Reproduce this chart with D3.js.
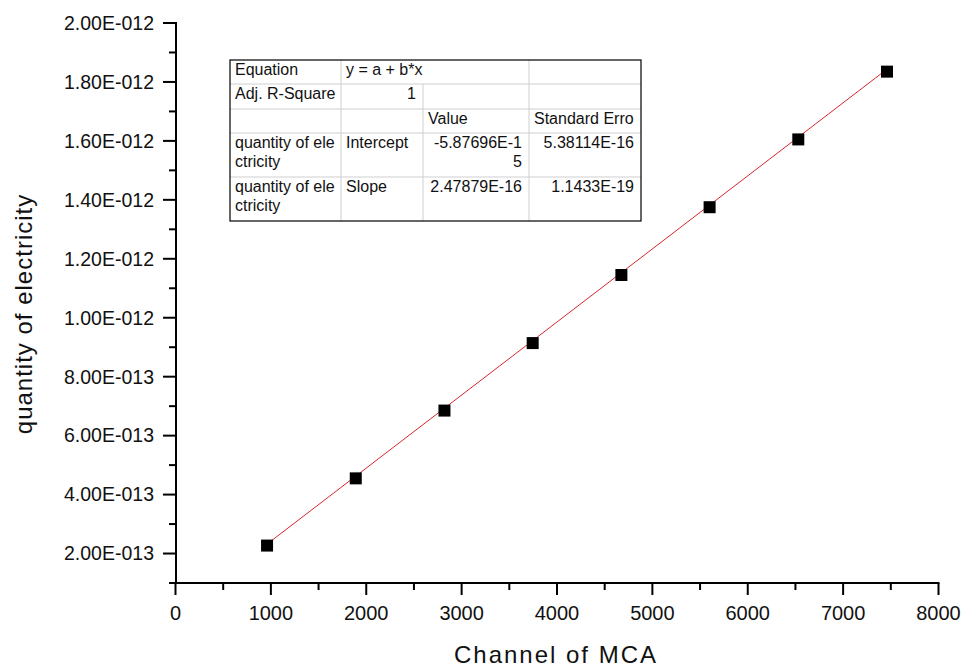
<!DOCTYPE html>
<html>
<head>
<meta charset="utf-8">
<script src="https://cdn.jsdelivr.net/npm/d3@7"></script>
<style>
  body { margin: 0; background: #fff; }
  text { font-family: Arial, "Liberation Sans", sans-serif; fill: #111; }
</style>
</head>
<body>
<svg id="chart" width="964" height="669"></svg>
<script>
// data
var channel = [960, 1890, 2820, 3745, 4675, 5600, 6530, 7460];
var charge = [2.27e-13, 4.55e-13, 6.85e-13, 9.14e-13, 1.145e-12, 1.375e-12, 1.605e-12, 1.835e-12];
var fitA = -5.87696e-15, fitB = 2.47879e-16;
var xTicks = [0, 1000, 2000, 3000, 4000, 5000, 6000, 7000, 8000];
var yTicks = [2e-13, 4e-13, 6e-13, 8e-13, 1e-12, 1.2e-12, 1.4e-12, 1.6e-12, 1.8e-12, 2e-12];
var yTickLabels = ["2.00E-013","4.00E-013","6.00E-013","8.00E-013","1.00E-012","1.20E-012","1.40E-012","1.60E-012","1.80E-012","2.00E-012"];
var tableRows = [
  ["Equation", "y = a + b*x", "", ""],
  ["Adj. R-Square", "1", "", ""],
  ["", "", "Value", "Standard Erro"],
  ["quantity of ele|ctricity", "Intercept", "-5.87696E-1|5", "5.38114E-16"],
  ["quantity of ele|ctricity", "Slope", "2.47879E-16", "1.1433E-19"]
];

var svg = d3.select("#chart");
var x = d3.scaleLinear().domain([0, 8000]).range([175.5, 938.5]);
var y = d3.scaleLinear().domain([1e-13, 2e-12]).range([583, 23]);

// axes
var xAxis = svg.append("g").attr("transform", "translate(0,583)");
xAxis.append("line").attr("x1", 174.5).attr("x2", 939.5).attr("stroke", "#000").attr("stroke-width", 2);
xAxis.selectAll("line.minor").data(d3.range(500, 8000, 1000)).enter().append("line")
  .attr("x1", d => x(d)).attr("x2", d => x(d)).attr("y1", 0).attr("y2", 7)
  .attr("stroke", "#000").attr("stroke-width", 2);
var xt = xAxis.selectAll("g.tick").data(xTicks).enter().append("g")
  .attr("transform", d => "translate(" + x(d) + ",0)");
xt.append("line").attr("y1", 0).attr("y2", 12).attr("stroke", "#000").attr("stroke-width", 2);
xt.append("text").attr("y", 37).attr("text-anchor", "middle").attr("font-size", 20)
  .text(d => d);

var yAxis = svg.append("g").attr("transform", "translate(176,0)");
yAxis.append("line").attr("y1", 22).attr("y2", 584).attr("stroke", "#000").attr("stroke-width", 2);
yAxis.selectAll("line.minor").data(d3.range(1e-13, 2e-12, 2e-13)).enter().append("line")
  .attr("y1", d => y(d)).attr("y2", d => y(d)).attr("x1", 0).attr("x2", -7)
  .attr("stroke", "#000").attr("stroke-width", 2);
var yt = yAxis.selectAll("g.tick").data(yTicks).enter().append("g")
  .attr("transform", d => "translate(0," + y(d) + ")");
yt.append("line").attr("x1", 0).attr("x2", -13).attr("stroke", "#000").attr("stroke-width", 2);
yt.append("text").attr("x", -22).attr("dy", "0.35em").attr("text-anchor", "end").attr("font-size", 19.5)
  .text((d, i) => yTickLabels[i]);

// titles
svg.append("text").attr("x", 556).attr("y", 663).attr("text-anchor", "middle").attr("font-size", 24)
  .attr("letter-spacing", 2).text("Channel of MCA");
svg.append("text").attr("transform", "translate(32,314) rotate(-90)").attr("text-anchor", "middle")
  .attr("font-size", 24).attr("letter-spacing", 1).text("quantity of electricity");

// fit line
var x0 = d3.min(channel), x1 = d3.max(channel);
svg.append("line")
  .attr("x1", x(x0)).attr("y1", y(fitA + fitB * x0))
  .attr("x2", x(x1)).attr("y2", y(fitA + fitB * x1))
  .attr("stroke", "#d8262b").attr("stroke-width", 1);

// points
svg.selectAll("rect.pt").data(channel).enter().append("rect")
  .attr("x", d => x(d) - 6).attr("y", (d, i) => y(charge[i]) - 6)
  .attr("width", 12).attr("height", 12).attr("fill", "#000");

// fit table
var colX = [230, 341, 423, 529, 641];
var rowY = [60, 84, 109, 133, 177, 221];
var tbl = svg.append("g");
tbl.append("rect").attr("x", colX[0]).attr("y", rowY[0]).attr("width", colX[4] - colX[0])
  .attr("height", rowY[5] - rowY[0]).attr("fill", "#fff");
rowY.slice(1, 5).forEach(function(yy) {
  tbl.append("line").attr("x1", colX[0]).attr("x2", colX[4]).attr("y1", yy).attr("y2", yy)
    .attr("stroke", "#cfcfcf");
});
tbl.append("line").attr("x1", colX[1]).attr("x2", colX[1]).attr("y1", rowY[0]).attr("y2", rowY[5]).attr("stroke", "#cfcfcf");
tbl.append("line").attr("x1", colX[2]).attr("x2", colX[2]).attr("y1", rowY[1]).attr("y2", rowY[5]).attr("stroke", "#cfcfcf");
tbl.append("line").attr("x1", colX[3]).attr("x2", colX[3]).attr("y1", rowY[0]).attr("y2", rowY[5]).attr("stroke", "#cfcfcf");
tbl.append("rect").attr("x", colX[0]).attr("y", rowY[0]).attr("width", colX[4] - colX[0])
  .attr("height", rowY[5] - rowY[0]).attr("fill", "none").attr("stroke", "#000").attr("stroke-width", 1.2);

// numbers are right aligned, words left aligned
var isNum = function(s) { return /^-?[0-9.E-]+$/.test(s); };
tableRows.forEach(function(row, r) {
  row.forEach(function(cell, c) {
    if (!cell) return;
    var parts = cell.split("|");
    var right = isNum(parts[0]);
    parts.forEach(function(p, k) {
      tbl.append("text")
        .attr("x", right ? colX[c + 1] - 7 : colX[c] + 5)
        .attr("y", rowY[r] + 15 + k * 18.5)
        .attr("text-anchor", right ? "end" : "start")
        .attr("font-size", 16)
        .text(p);
    });
  });
});
</script>
</body>
</html>
